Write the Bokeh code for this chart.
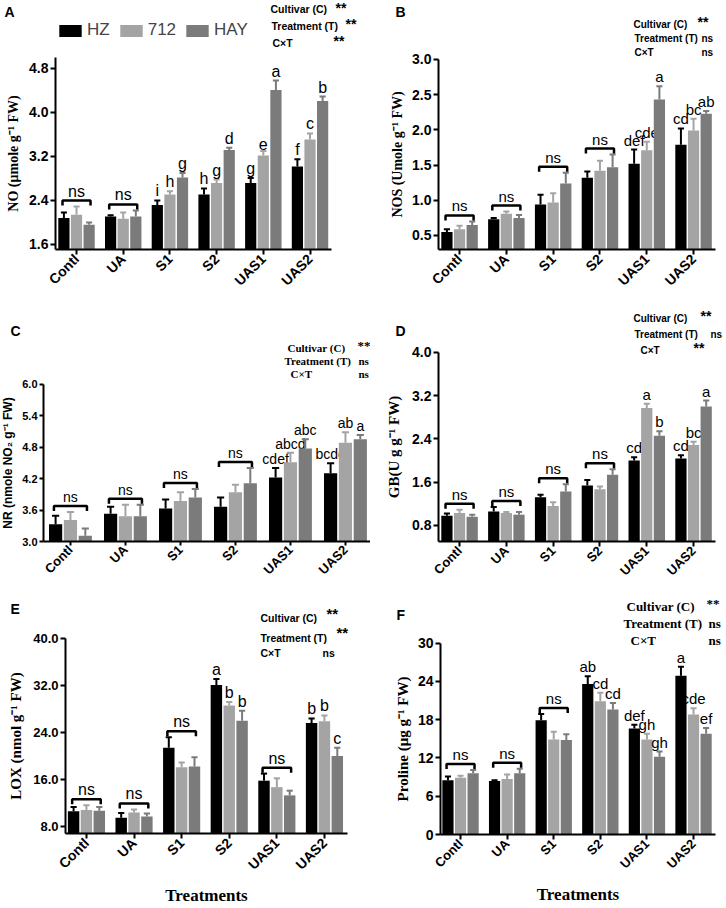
from math import pi
import numpy as np
from bokeh.plotting import figure
from bokeh.models import (ColumnDataSource, Range1d, FixedTicker, Label, Legend,
                          LegendItem, NumeralTickFormatter)
from bokeh.layouts import column, row
from bokeh.embed import file_html
from bokeh.resources import INLINE
from bokeh.core.properties import value

treatments = ["Contl", "UA", "S1", "S2", "UAS1", "UAS2"]
cultivars = ["HZ", "712", "HAY"]
colors = ["#000000", "#a4a4a4", "#7b7b7b"]

# ---- A: NO ----
no_hz = [2.08, 2.11, 2.32, 2.51, 2.72, 3.02]
no_hz_err = [0.10, 0.02, 0.08, 0.11, 0.09, 0.13]
no_712 = [2.14, 2.07, 2.51, 2.72, 3.22, 3.51]
no_712_err = [0.15, 0.11, 0.06, 0.06, 0.08, 0.11]
no_hay = [1.96, 2.11, 2.82, 3.32, 4.41, 4.21]
no_hay_err = [0.04, 0.11, 0.08, 0.04, 0.17, 0.08]
no_let_hz = ["", "", "i", "h", "g", "f"]
no_let_712 = ["", "", "h", "g", "e", "c"]
no_let_hay = ["", "", "g", "d", "a", "b"]
no_ns = [True, True, False, False, False, False]

# ---- B: NOS ----
nos_hz = [0.55, 0.73, 0.94, 1.32, 1.52, 1.79]
nos_hz_err = [0.04, 0.02, 0.14, 0.09, 0.20, 0.23]
nos_712 = [0.59, 0.81, 0.97, 1.42, 1.71, 1.99]
nos_712_err = [0.05, 0.03, 0.13, 0.14, 0.12, 0.17]
nos_hay = [0.65, 0.75, 1.24, 1.47, 2.43, 2.23]
nos_hay_err = [0.05, 0.04, 0.15, 0.18, 0.19, 0.04]
nos_let_hz = ["", "", "", "", "def", "cd"]
nos_let_712 = ["", "", "", "", "cde", "bc"]
nos_let_hay = ["", "", "", "", "a", "ab"]
nos_ns = [True, True, True, True, False, False]

# ---- C: NR ----
nr_hz = [3.33, 3.53, 3.63, 3.66, 4.22, 4.30]
nr_hz_err = [0.16, 0.13, 0.17, 0.18, 0.18, 0.19]
nr_712 = [3.41, 3.48, 3.77, 3.94, 4.51, 4.88]
nr_712_err = [0.15, 0.22, 0.17, 0.14, 0.18, 0.20]
nr_hay = [3.11, 3.48, 3.84, 4.11, 4.77, 4.95]
nr_hay_err = [0.14, 0.22, 0.16, 0.29, 0.18, 0.08]
nr_let_hz = ["", "", "", "", "cdef", "bcde"]
nr_let_712 = ["", "", "", "", "abcd", "ab"]
nr_let_hay = ["", "", "", "", "abc", "a"]
nr_ns = [True, True, True, True, False, False]

# ---- D: GB ----
gb_hz = [0.98, 1.06, 1.32, 1.54, 2.00, 2.04]
gb_hz_err = [0.04, 0.08, 0.05, 0.10, 0.06, 0.06]
gb_712 = [1.03, 1.03, 1.16, 1.47, 2.97, 2.29]
gb_712_err = [0.06, 0.02, 0.07, 0.05, 0.08, 0.06]
gb_hay = [0.96, 1.00, 1.43, 1.74, 2.46, 3.00]
gb_hay_err = [0.04, 0.05, 0.13, 0.10, 0.08, 0.11]
gb_let_hz = ["", "", "", "", "cd", "cd"]
gb_let_712 = ["", "", "", "", "a", "bc"]
gb_let_hay = ["", "", "", "", "b", "a"]
gb_ns = [True, True, True, True, False, False]

# ---- E: LOX ----
lox_hz = [10.6, 9.5, 21.4, 32.1, 15.8, 25.6]
lox_hz_err = [0.7, 0.8, 1.8, 1.0, 1.2, 0.8]
lox_712 = [10.8, 10.4, 18.1, 28.6, 14.7, 25.9]
lox_712_err = [0.8, 0.5, 0.8, 0.6, 1.5, 1.0]
lox_hay = [10.7, 9.7, 18.2, 26.0, 13.3, 20.0]
lox_hay_err = [0.6, 0.5, 1.6, 1.7, 0.8, 1.4]
lox_let_hz = ["", "", "", "a", "", "b"]
lox_let_712 = ["", "", "", "b", "", "b"]
lox_let_hay = ["", "", "", "b", "", "c"]
lox_ns = [True, True, True, False, True, False]

# ---- F: Proline ----
pro_hz = [8.5, 8.4, 17.9, 23.6, 16.6, 24.9]
pro_hz_err = [0.6, 0.1, 1.0, 1.2, 0.6, 1.4]
pro_712 = [8.9, 8.7, 14.9, 20.9, 14.9, 18.8]
pro_712_err = [0.3, 0.7, 1.2, 1.3, 0.9, 1.0]
pro_hay = [9.6, 9.6, 14.8, 19.6, 12.2, 15.8]
pro_hay_err = [0.5, 0.7, 0.9, 1.0, 0.8, 0.9]
pro_let_hz = ["", "", "", "ab", "def", "a"]
pro_let_712 = ["", "", "", "cd", "gh", "cde"]
pro_let_hay = ["", "", "", "cd", "gh", "ef"]
pro_ns = [True, True, True, False, False, False]

SANS = "Liberation Sans"
SERIF = "Liberation Serif"
OFFS = [-0.27, 0.0, 0.27]


def lab(p, org, x, y, text, size, font=SANS, bold=True, align="left", baseline="middle"):
    p.add_layout(Label(x=x - org[0], y=y - org[1], x_units="canvas", y_units="canvas",
                       text=text, text_font=font, text_font_size=f"{size}px",
                       text_font_style="bold" if bold else "normal",
                       text_align=align, text_baseline=baseline, text_color="black"))


def make_panel(vals, errs, lets, ns, s):
    ox, oy = s["origin"]
    W, H = s["size"]
    ax, x0, xppu = s["xax"]
    ay, y0, yppu = s["yax"]
    x_lo = x0 - (ax - ox) / xppu
    x_hi = x_lo + W / xppu
    y_lo = y0 - (oy + H - ay) / yppu
    y_hi = y_lo + H / yppu
    p = figure(width=W, height=H, x_range=Range1d(x_lo, x_hi), y_range=Range1d(y_lo, y_hi),
               output_backend="svg", toolbar_location=None, title=None,
               min_border=0, min_border_left=0, min_border_right=0, min_border_top=0,
               min_border_bottom=0, outline_line_color=None)
    p.xgrid.visible = False
    p.ygrid.visible = False

    rends = []
    ups = []
    for i in range(3):
        v = np.array(vals[i], dtype=float)
        e = np.array(errs[i], dtype=float)
        x = np.arange(6) + OFFS[i]
        up = v + e
        ups.append(up)
        src = ColumnDataSource(dict(x=x, top=v, up=up, cl=x - 0.065, cr=x + 0.065, lab=lets[i]))
        r = p.vbar(x="x", top="top", bottom=y0, width=0.24, fill_color=colors[i],
                   line_color=None, source=src)
        rends.append(r)
        p.segment(x0="x", y0="top", x1="x", y1="up", line_color=colors[i], line_width=2, source=src)
        p.segment(x0="cl", y0="up", x1="cr", y1="up", line_color=colors[i], line_width=2, source=src)
        p.text(x="x", y="up", text="lab", text_align="center", text_baseline="bottom",
               y_offset=-1, text_font=value(SANS), text_font_size=f"{s['letsize']}px",
               text_color="black", source=src)

    # ns brackets
    upm = np.max(np.vstack(ups), axis=0)
    xs, ys, tx, ty = [], [], [], []
    for g in range(6):
        if ns[g]:
            yb = upm[g] + 6 / yppu
            d = 5 / yppu
            xs.append([g - 0.3, g - 0.3, g + 0.3, g + 0.3])
            ys.append([yb - d, yb, yb, yb - d])
            tx.append(g)
            ty.append(yb)
    p.multi_line(xs=xs, ys=ys, line_color="black", line_width=2.5)
    p.text(x=tx, y=ty, text=["ns"] * len(tx), text_align="center", text_baseline="bottom",
           y_offset=-1, text_font=value(SANS), text_font_size=f"{s['letsize']}px", text_color="black")

    # axes drawn at fixed positions inside the full-canvas frame
    xa = p.xaxis[0]
    xa.fixed_location = y0
    xa.ticker = FixedTicker(ticks=list(range(6)))
    xa.major_label_overrides = {i: t for i, t in enumerate(treatments)}
    xa.major_label_orientation = pi / 4
    xa.bounds = (x0, s["xend"])
    xa.major_label_text_font = SANS
    xa.major_label_text_font_style = "bold"
    xa.major_label_text_font_size = f"{s['xticksize']}px"
    xa.major_label_standoff = 2
    if s.get("xlabel"):
        xa.axis_label = s["xlabel"]
        xa.axis_label_text_font = SERIF
        xa.axis_label_text_font_style = "bold"
        xa.axis_label_text_font_size = "17px"
        xa.axis_label_standoff = 5

    ya = p.yaxis[0]
    ya.fixed_location = x0
    ya.ticker = FixedTicker(ticks=s["yticks"])
    ya.formatter = NumeralTickFormatter(format=s["yfmt"])
    ya.bounds = (y0, s["ytop"])
    ya.major_label_text_font = SANS
    ya.major_label_text_font_style = "bold"
    ya.major_label_text_font_size = f"{s['ticksize']}px"
    ya.major_label_standoff = 2
    ya.axis_label = s["ylabel"]
    ya.axis_label_text_font = s["ylfont"]
    ya.axis_label_text_font_style = "bold"
    ya.axis_label_text_font_size = f"{s['ylsize']}px"
    ya.axis_label_standoff = s["ylstand"]

    for a in (xa, ya):
        a.axis_line_width = 2
        a.axis_line_color = "black"
        a.major_tick_line_width = 2
        a.major_tick_line_color = "black"
        a.major_tick_out = s.get("tickout", 5)
        a.major_tick_in = 0
        a.minor_tick_line_color = None
        a.major_label_text_color = "black"
        a.axis_label_text_color = "black"
    return p, rends, (ox, oy)


def add_stats(p, org, st, font, size, starsize):
    for (name, nx, ny, val, vx, vy) in st:
        lab(p, org, nx, ny, name, size, font=font)
        lab(p, org, vx, vy, val, starsize if val == "**" else size, font=font)


# ---------- Panel A ----------
sA = dict(origin=(0, 0), size=(363, 292), xax=(55, -0.45, 46.7), xend=5.45,
          yax=(249, 1.509, 55.0), ytop=5.0, yticks=[1.6, 2.4, 3.2, 4.0, 4.8], yfmt="0.0",
          ticksize=14, xticksize=14, ylabel="NO (μmole g⁻¹ FW)", ylfont=SERIF, ylsize=14,
          ylstand=5, letsize=16)
pA, rA, oA = make_panel([no_hz, no_712, no_hay], [no_hz_err, no_712_err, no_hay_err],
                        [no_let_hz, no_let_712, no_let_hay], no_ns, sA)
lab(pA, oA, 4, 3, "A", 14, baseline="top")
add_stats(pA, oA, [("Cultivar (C)", 270, 8, "**", 335, 7),
                   ("Treatment (T)", 271, 25, "**", 345, 23),
                   ("C×T", 272, 42, "**", 333, 40)], SANS, 10.5, 14)
legA = Legend(items=[LegendItem(label=c, renderers=[r]) for c, r in zip(cultivars, rA)],
              orientation="horizontal", location=(56, 252), padding=0, margin=0, spacing=7,
              glyph_width=28, glyph_height=15, label_standoff=3, label_height=15,
              label_text_font=SANS, label_text_font_size="17px",
              border_line_color=None, background_fill_alpha=0)
pA.add_layout(legA)

# ---------- Panel B ----------
sB = dict(origin=(363, 0), size=(361, 292), xax=(438, -0.45, 46.8), xend=5.47,
          yax=(249, 0.301, 70.4), ytop=3.0, yticks=[0.5, 1.0, 1.5, 2.0, 2.5, 3.0], yfmt="0.0",
          ticksize=14, xticksize=14, ylabel="NOS (Umole g⁻¹ FW)", ylfont=SERIF, ylsize=14,
          ylstand=4, letsize=15)
pB, _, oB = make_panel([nos_hz, nos_712, nos_hay], [nos_hz_err, nos_712_err, nos_hay_err],
                       [nos_let_hz, nos_let_712, nos_let_hay], nos_ns, sB)
lab(pB, oB, 395, 3, "B", 14, baseline="top")
add_stats(pB, oB, [("Cultivar (C)", 633, 24, "**", 697, 21),
                   ("Treatment (T)", 634, 38, "ns", 701, 38),
                   ("C×T", 634, 52, "ns", 701, 52)], SANS, 10, 14)

# ---------- Panel C ----------
sC = dict(origin=(0, 292), size=(370, 292), xax=(43, -0.49, 55.0), xend=5.47,
          yax=(541, 3.0, 52.5), ytop=6.0, yticks=[3.0, 3.6, 4.2, 4.8, 5.4, 6.0], yfmt="0.0",
          ticksize=11, xticksize=13, ylabel="NR (nmole NO₂ g⁻¹ FW)", ylfont=SANS, ylsize=12,
          ylstand=4, letsize=14, tickout=4)
pC, _, oC = make_panel([nr_hz, nr_712, nr_hay], [nr_hz_err, nr_712_err, nr_hay_err],
                       [nr_let_hz, nr_let_712, nr_let_hay], nr_ns, sC)
lab(pC, oC, 10, 322, "C", 14, baseline="top")
add_stats(pC, oC, [("Cultivar (C)", 287, 347, "**", 357, 345),
                   ("Treatment (T)", 284, 360, "ns", 358, 360),
                   ("C×T", 290, 373, "ns", 358, 373)], SERIF, 11, 13)

# ---------- Panel D ----------
sD = dict(origin=(370, 292), size=(354, 292), xax=(438, -0.45, 46.8), xend=5.47,
          yax=(541, 0.504, 54.1), ytop=4.0, yticks=[0.8, 1.6, 2.4, 3.2, 4.0], yfmt="0.0",
          ticksize=14, xticksize=13, ylabel="GB(U g g⁻¹ FW)", ylfont=SERIF, ylsize=15,
          ylstand=7, letsize=15)
pD, _, oD = make_panel([gb_hz, gb_712, gb_hay], [gb_hz_err, gb_712_err, gb_hay_err],
                       [gb_let_hz, gb_let_712, gb_let_hay], gb_ns, sD)
lab(pD, oD, 395, 322, "D", 14, baseline="top")
add_stats(pD, oD, [("Cultivar (C)", 633, 318, "**", 700, 315),
                   ("Treatment (T)", 634, 334, "ns", 710, 334),
                   ("C×T", 640, 350, "**", 693, 347)], SANS, 10, 14)

# ---------- Panel E ----------
sE = dict(origin=(0, 584), size=(363, 322), xax=(65, -0.44, 47.6), xend=5.48,
          yax=(833, 6.81, 5.875), ytop=40.0, yticks=[8, 16, 24, 32, 40], yfmt="0.0",
          ticksize=13, xticksize=14, ylabel="LOX (nmol g⁻¹ FW)", ylfont=SERIF, ylsize=15,
          ylstand=6, letsize=16, xlabel="Treatments")
pE, _, oE = make_panel([lox_hz, lox_712, lox_hay], [lox_hz_err, lox_712_err, lox_hay_err],
                       [lox_let_hz, lox_let_712, lox_let_hay], lox_ns, sE)
lab(pE, oE, 10, 600, "E", 14, baseline="top")
add_stats(pE, oE, [("Cultivar (C)", 260, 617, "**", 326, 613),
                   ("Treatment (T)", 260, 637, "**", 336, 632),
                   ("C×T", 260, 652, "ns", 322, 652)], SANS, 10.5, 15)

# ---------- Panel F ----------
sF = dict(origin=(363, 584), size=(361, 322), xax=(440, -0.43, 46.6), xend=5.47,
          yax=(834, 0.0, 6.38), ytop=30.0, yticks=[0, 6, 12, 18, 24, 30], yfmt="0",
          ticksize=14, xticksize=13, ylabel="Proline (μg g⁻¹ FW)", ylfont=SERIF, ylsize=15,
          ylstand=4, letsize=15, xlabel="Treatments")
pF, _, oF = make_panel([pro_hz, pro_712, pro_hay], [pro_hz_err, pro_712_err, pro_hay_err],
                       [pro_let_hz, pro_let_712, pro_let_hay], pro_ns, sF)
lab(pF, oF, 396, 606, "F", 14, baseline="top")
add_stats(pF, oF, [("Cultivar (C)", 626, 606, "**", 706, 603),
                   ("Treatment (T)", 623, 623, "ns", 708, 623),
                   ("C×T", 630, 640, "ns", 708, 640)], SERIF, 13, 13)

layout = column(row(pA, pB), row(pC, pD), row(pE, pF))
open("out.html", "w").write(file_html(layout, INLINE))
